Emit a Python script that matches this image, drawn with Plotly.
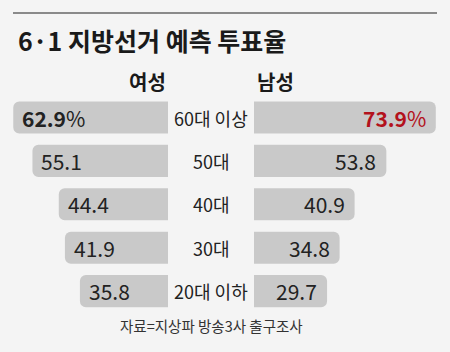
import plotly.graph_objects as go

categories = ["60대 이상", "50대", "40대", "30대", "20대 이하"]
female = [62.9, 55.1, 44.4, 41.9, 35.8]
male = [73.9, 53.8, 40.9, 34.8, 29.7]
female_labels = ["<b>62.9</b>%", "55.1", "44.4", "41.9", "35.8"]
male_labels = ["<b>73.9</b>%", "53.8", "40.9", "34.8", "29.7"]
male_label_colors = ["#b3121c", "#222222", "#222222", "#222222", "#222222"]

title = "6·1 지방선거 예측 투표율"
header_female = "여성"
header_male = "남성"
source = "자료=지상파 방송3사 출구조사"

W, H = 450, 352
PX = 2.46  # pixels per percentage point
BG = "#f4f4f4"
BAR = "#c9c9c9"
KR = "Noto Sans CJK KR"
NUM = "Noto Sans CJK KR"

fig = go.Figure()
fig.add_trace(go.Bar(y=categories, x=female, orientation="h", xaxis="x", yaxis="y",
                     marker=dict(color=BAR, line=dict(width=0)), width=0.74,
                     hoverinfo="skip"))
fig.add_trace(go.Bar(y=categories, x=male, orientation="h", xaxis="x2", yaxis="y",
                     marker=dict(color=BAR, line=dict(width=0)), width=0.74,
                     hoverinfo="skip"))

annotations = []
for c, v, t in zip(categories, female, female_labels):
    annotations.append(dict(x=v, y=c, xref="x", yref="y", text=t, showarrow=False,
                            xanchor="left", xshift=7, yanchor="middle",
                            font=dict(family=NUM, size=21, color="#222222")))
for c, v, t, col in zip(categories, male, male_labels, male_label_colors):
    annotations.append(dict(x=v, y=c, xref="x2", yref="y", text=t, showarrow=False,
                            xanchor="right", xshift=-8, yanchor="middle",
                            font=dict(family=NUM, size=21, color=col)))
for c in categories:
    annotations.append(dict(x=211 / W, y=c, xref="paper", yref="y", text=c, showarrow=False,
                            xanchor="center", yanchor="middle",
                            font=dict(family=KR, size=18, color="#222222")))

annotations += [
    dict(x=16 / W, y=1 - 40 / H, xref="paper", yref="paper", text="<b>" + title + "</b>",
         showarrow=False, xanchor="left", yanchor="middle",
         font=dict(family=KR, size=25, color="#1a1a1a")),
    dict(x=147 / W, y=1 - 82 / H, xref="paper", yref="paper", text="<b>" + header_female + "</b>",
         showarrow=False, xanchor="center", yanchor="middle",
         font=dict(family=KR, size=20, color="#1a1a1a")),
    dict(x=275 / W, y=1 - 82 / H, xref="paper", yref="paper", text="<b>" + header_male + "</b>",
         showarrow=False, xanchor="center", yanchor="middle",
         font=dict(family=KR, size=20, color="#1a1a1a")),
    dict(x=211 / W, y=1 - 325 / H, xref="paper", yref="paper", text=source,
         showarrow=False, xanchor="center", yanchor="middle",
         font=dict(family=KR, size=14.5, color="#333333")),
]

row_px = 43.4
y0_px = 117.5
b = -y0_px / row_px
a = b + H / row_px

fig.update_layout(
    width=W, height=H,
    margin=dict(l=0, r=0, t=0, b=0),
    paper_bgcolor=BG, plot_bgcolor=BG,
    showlegend=False,
    barcornerradius=6,
    xaxis=dict(domain=[0, 168 / W], range=[168 / PX, 0], visible=False, fixedrange=True),
    xaxis2=dict(domain=[254 / W, 1], range=[0, (W - 254) / PX], visible=False, fixedrange=True),
    yaxis=dict(range=[a, b], visible=False, type="category", fixedrange=True),
    annotations=annotations,
    shapes=[dict(type="line", xref="paper", yref="paper", x0=13 / W, x1=437 / W,
                 y0=1 - 13 / H, y1=1 - 13 / H, line=dict(color="#8a8a8a", width=2))],
)

fig.write_html("out.html")
